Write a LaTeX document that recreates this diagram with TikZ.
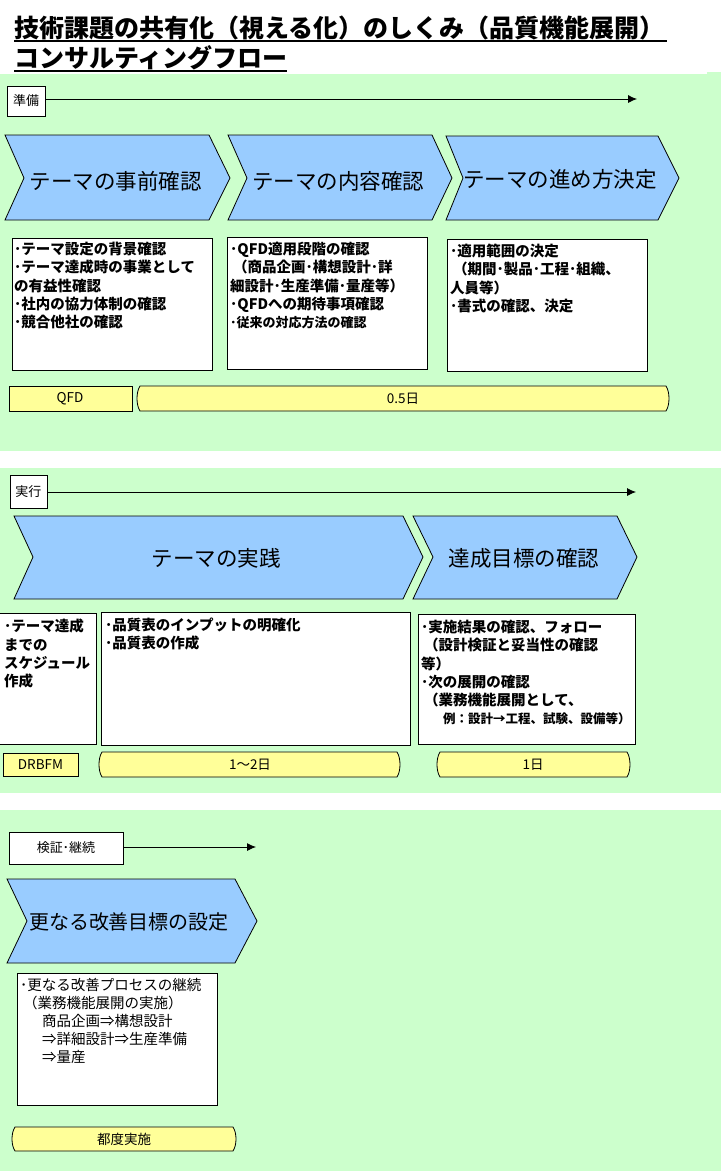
\documentclass[tikz,border=0pt]{standalone}
\usepackage{fontspec}
\setmainfont{Noto Sans CJK JP}
\definecolor{secgreen}{HTML}{CCFFCC}
\definecolor{chevblue}{HTML}{99CCFF}
\definecolor{duryellow}{HTML}{FFFF99}
\tikzset{
  secbg/.style={fill=secgreen, draw=none},
  chev/.style={fill=chevblue, draw=black, line width=0.8pt, line join=miter},
  chevtext/.style={font=\fontsize{21.5}{24}\selectfont, inner sep=0pt},
  chevtextsm/.style={font=\fontsize{20}{24}\selectfont, inner sep=0pt},
  txtbox/.style={fill=white, draw=black, line width=0.8pt},
  boxtext/.style={font=\bfseries\fontsize{14.5}{18.2}\selectfont, align=left, anchor=north west, inner sep=0pt},
  boxtextreg/.style={font=\fontsize{14.5}{18}\selectfont, align=left, anchor=north west, inner sep=0pt},
  dur/.style={fill=duryellow, draw=black, line width=0.8pt},
  durtext/.style={font=\fontsize{13.5}{15}\selectfont, inner sep=0pt},
  phase/.style={fill=white, draw=black, line width=0.8pt, font=\fontsize{13}{15}\selectfont, inner sep=0pt, minimum height=30pt},
  flow/.style={line width=0.8pt, -{Latex[length=9pt,width=8pt]}},
  titletext/.style={font=\bfseries\fontsize{25}{30}\selectfont, inner sep=0pt, anchor=base west}
}
\usetikzlibrary{arrows.meta}
\newcommand{\durbar}[4]{% x0 x1 ytop ybot
  \fill[duryellow] (#1+4,#3) -- (#2-4,#3) .. controls (#2,#3+6) and (#2,#4-6) .. (#2-4,#4) -- (#1+4,#4) .. controls (#1,#4-6) and (#1,#3+6) .. (#1+4,#3) -- cycle;
  \draw[line width=0.8pt] (#1+4,#3) -- (#2-4,#3) .. controls (#2,#3+6) and (#2,#4-6) .. (#2-4,#4) -- (#1+4,#4) .. controls (#1,#4-6) and (#1,#3+6) .. (#1+4,#3) -- cycle;
}
\begin{document}
\begin{tikzpicture}[x=1pt, y=-1pt]
\useasboundingbox (0,0) rectangle (721,1171);
\fill[white] (0,0) rectangle (721,1171);

% title
\node[titletext] (t1) at (14,37) {技術課題の共有化（視える化）のしくみ（品質機能展開）};
\draw[line width=1.6pt] (14,41) -- (667,41);
\node[titletext] (t2) at (14,67) {コンサルティングフロー};
\draw[line width=1.6pt] (14,71) -- (287,71);

% section backgrounds
\fill[secgreen] (0,74) rectangle (721,451);
\fill[secgreen] (707,72) rectangle (721,74);
\fill[secgreen] (0,468) rectangle (721,793);
\fill[secgreen] (0,810) rectangle (721,1171);

% ---------- Section 1 ----------
\node[phase, minimum width=38pt] (p1) at (26,101) {準備};
\coordinate (p1e) at (637,99);
\draw[flow] (p1.east |- p1e) -- (p1e);

\draw[chev] (5,135) -- (209,135) -- (230,178) -- (209,220) -- (5,220) -- (24,178) -- cycle;
\node[chevtext] (c11) at (116,181) {テーマの事前確認};
\draw[chev] (228,135) -- (432,135) -- (452,178) -- (432,220) -- (228,220) -- (247,178) -- cycle;
\node[chevtext] (c12) at (338,181) {テーマの内容確認};
\draw[chev] (446,136) -- (658,136) -- (679,178) -- (658,220) -- (446,220) -- (463,178) -- cycle;
\node[chevtext] (c13) at (560,179) {テーマの進め方決定};

\draw[txtbox] (12,238) rectangle (212,370);
\node[boxtext] (b11) at (14,242) {･テーマ設定の背景確認\\･テーマ達成時の事業として\\の有益性確認\\･社内の協力体制の確認\\･競合他社の確認};
\draw[txtbox] (227,237) rectangle (427,369);
\node[boxtext] (b12) at (230,242) {･QFD適用段階の確認\\\hspace{3pt}（商品企画･構想設計･詳\\細設計･生産準備･量産等）\\･QFDへの期待事項確認\\{\fontsize{13}{16}\selectfont ･従来の対応方法の確認}};
\draw[txtbox] (447,239) rectangle (647,371);
\node[boxtext] (b13) at (450,244) {･適用範囲の決定\\\hspace{3pt}（期間･製品･工程･組織、\\人員等）\\･書式の確認、決定};

\draw[dur] (9,386) rectangle (132,411);
\node[durtext] (d11) at (70,399) {QFD};
\durbar{136}{670}{386}{411}
\node[durtext] (d12) at (403,399) {0.5日};

% ---------- Section 2 ----------
\node[phase, minimum width=37pt, minimum height=33pt] (p2) at (28.5,491.5) {実行};
\coordinate (p2e) at (636,492);
\draw[flow] (p2.east |- p2e) -- (p2e);

\draw[chev] (14,516) -- (403,516) -- (423,557) -- (403,599) -- (14,599) -- (33,557) -- cycle;
\node[chevtext] (c21) at (216,558) {テーマの実践};
\draw[chev] (413,516) -- (617,516) -- (637,557) -- (617,599) -- (413,599) -- (433,557) -- cycle;
\node[chevtext] (c22) at (524,558) {達成目標の確認};

\draw[txtbox] (-2,613) rectangle (96,744);
\node[boxtext] (b21) at (4,619) {･テーマ達成\\までの\\スケジュール\\作成};
\draw[txtbox] (101,612) rectangle (410,745);
\node[boxtext] (b22) at (105,618) {･品質表のインプットの明確化\\･品質表の作成};
\draw[txtbox] (418,614) rectangle (635,744);
\node[boxtext] (b23) at (421,620) {･実施結果の確認、フォロー\\\hspace{3pt}（設計検証と妥当性の確認\\等）\\･次の展開の確認\\\hspace{3pt}（業務機能展開として、\\\hspace{22pt}{\fontsize{12.5}{16}\selectfont 例：設計→工程、試験、設備等）}};

\draw[dur] (3,753) rectangle (78,776);
\node[durtext] (d21) at (40.5,765) {DRBFM};
\durbar{98}{401}{752}{777}
\node[durtext] (d22) at (250,765) {1〜2日};
\durbar{436}{631}{752}{777}
\node[durtext] (d23) at (533,765) {1日};

% ---------- Section 3 ----------
\node[phase, minimum width=114pt, minimum height=32pt] (p3) at (66,848) {検証･継続};
\coordinate (p3e) at (256,847);
\draw[flow] (p3.east |- p3e) -- (p3e);

\draw[chev] (7,879) -- (235,879) -- (257,921) -- (235,963) -- (7,963) -- (27,921) -- cycle;
\node[chevtextsm] (c31) at (129,922) {更なる改善目標の設定};

\draw[txtbox] (17,973) rectangle (217,1105);
\node[boxtextreg] (b31) at (20,978) {･更なる改善プロセスの継続\\\hspace{3pt}（業務機能展開の実施）\\\hspace{22pt}商品企画⇒構想設計\\\hspace{22pt}⇒詳細設計⇒生産準備\\\hspace{22pt}⇒量産};

\durbar{11}{237}{1127}{1151}
\node[durtext] (d31) at (124,1139) {都度実施};
\end{tikzpicture}
\end{document}
